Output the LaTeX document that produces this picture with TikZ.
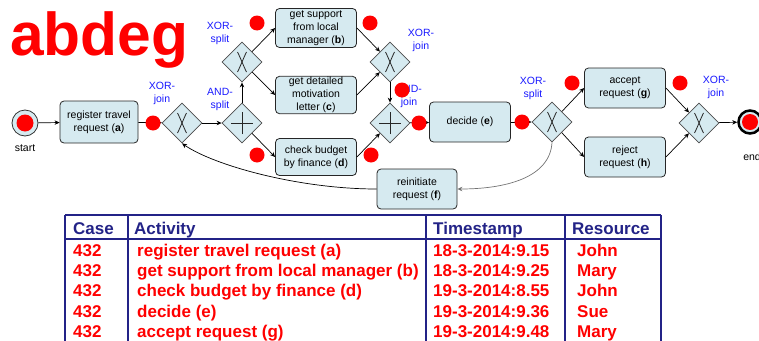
\documentclass[tikz,border=0pt]{standalone}
\usepackage{fontspec}
\setmainfont{Liberation Sans}
\usetikzlibrary{shapes.geometric,arrows.meta}
\definecolor{boxblue}{RGB}{214,234,240}
\definecolor{navy}{RGB}{35,35,135}
\definecolor{lblue}{RGB}{25,25,255}
\begin{document}
\begin{tikzpicture}[x=1pt,y=-1pt,
  act/.style={draw=black!85, line width=0.8pt, rounded corners=4pt, fill=boxblue, align=center,
    minimum width=81pt, minimum height=40pt, inner sep=1pt, font=\fontsize{10.5}{12.8}\selectfont},
  gw/.style={diamond, aspect=1, draw=black!70, line width=0.8pt, fill=boxblue,
    minimum width=40pt, minimum height=40pt, inner sep=0pt},
  tok/.style={circle, fill=red, minimum size=15pt, inner sep=0pt},
  gl/.style={text=lblue, align=center, inner sep=0pt, font=\fontsize{10.5}{13}\selectfont},
  flow/.style={-{Stealth[length=5pt,width=4.5pt]}, line width=0.7pt, black},
  evlbl/.style={inner sep=0pt, font=\fontsize{10.5}{12}\selectfont},
  th/.style={anchor=base west, inner sep=0pt, text=navy, font=\fontsize{17}{20}\bfseries},
  td/.style={anchor=base west, inner sep=0pt, text=red, font=\fontsize{17}{20}\bfseries},
  tline/.style={draw=navy, line width=1.6pt}
]
\useasboundingbox (0,0) rectangle (759,340);
\clip (0,0) rectangle (759,340);

% title
\node[anchor=base west, inner sep=0pt, text=red, font=\fontsize{60.5}{62}\bfseries] (title) at (10,55) {abdeg};

% events
\node[circle, draw=black!80, line width=0.8pt, fill=boxblue, minimum size=26pt, inner sep=0pt] (start) at (25,123) {};
\fill[red] (start.center) circle (8.5);
\node[evlbl] (startl) at (25,148) {start};
\node[circle, draw=black, line width=2.5pt, fill=boxblue, minimum size=23pt, inner sep=0pt] (end) at (750,122) {};
\fill[red] (end.center) circle (8);
\node[evlbl] (endl) at (752,157) {end};

% activities
\node[act, minimum width=78pt, minimum height=42pt] (a) at (99,122) {register travel\\request (\textbf{a})};
\node[act, minimum height=39pt] (b) at (316,28) {get support\\from local\\manager (\textbf{b})};
\node[act, minimum height=37pt] (c) at (316,95) {get detailed\\motivation\\letter (\textbf{c})};
\node[act, minimum height=37pt] (d) at (316,157) {check budget\\by finance (\textbf{d})};
\node[act] (e) at (470,122) {decide (\textbf{e})};
\node[act] (g) at (625,88) {accept\\request (\textbf{g})};
\node[act] (h) at (625,157) {reject\\request (\textbf{h})};
\node[act, minimum width=80pt] (f) at (417,189) {reinitiate\\request (\textbf{f})};

% gateways
\node[gw] (xj1) at (182,123) {};
\node[gw] (as1) at (242,123) {};
\node[gw] (xs1) at (242,62) {};
\node[gw] (xj2) at (390,62) {};
\node[gw] (aj) at (390,123) {};
\node[gw] (xs2) at (552,122) {};
\node[gw] (xj3) at (699,123) {};
\foreach \g in {xj1,xs1,xj2,xs2,xj3}
  \draw[line width=0.8pt, black!85] ([shift={(-4.5,-10)}]\g.center) .. controls ([shift={(-1,-3)}]\g.center) and ([shift={(1,3)}]\g.center) .. ([shift={(4.5,10)}]\g.center)
    ([shift={(4.5,-10)}]\g.center) .. controls ([shift={(1,-3)}]\g.center) and ([shift={(-1,3)}]\g.center) .. ([shift={(-4.5,10)}]\g.center);
\foreach \g in {as1,aj}
  \draw[line width=0.9pt, black!85] ([xshift=-11pt]\g.center) -- ([xshift=11pt]\g.center)
    ([yshift=-11pt]\g.center) -- ([yshift=11pt]\g.center);

% gateway labels
\node[gl] (l1) at (162,93) {XOR-\\join};
\node[gl] (l2) at (220,99) {AND-\\split};
\node[gl] (l3) at (220,33) {XOR-\\split};
\node[gl] (l4) at (421,40) {XOR-\\join};
\node[gl] (l5) at (409,96) {AND-\\join};
\node[gl] (l6) at (533,88) {XOR-\\split};
\node[gl] (l7) at (716,87) {XOR-\\join};

% flows
\draw[flow] (start) -- (a);
\draw[flow] (a) -- (xj1);
\draw[flow] (xj1) -- (as1);
\draw[flow] (as1) -- (xs1);
\draw[flow] (xs1) -- (b.west);
\draw[flow] (xs1) -- (c.west);
\draw[flow] (as1) -- (d.west);
\draw[flow] (b.east) -- (xj2);
\draw[flow] (c.east) -- (xj2);
\draw[flow] (d.east) -- (aj);
\draw[flow] (xj2) -- (aj);
\draw[flow] (aj) -- (e);
\draw[flow] (e) -- (xs2);
\draw[flow] (xs2) -- (g.west);
\draw[flow] (xs2) -- (h.west);
\draw[flow] (g.east) -- (xj3);
\draw[flow] (h.east) -- (xj3);
\draw[flow] (xj3) -- (end);
\draw[flow, draw=black!55] (xs2.south) .. controls (550,178) and (505,189) .. (f.east);
\draw[flow] (f.west) .. controls (300,189) and (215,166) .. (xj1.south);

% tokens
\foreach \tx/\ty/\n in {153/123/t1,257/23/t2,370/23/t3,257/155/t4,371/155/t5,402/90/t6,419/123/t7,522/122/t8,572/83/t9,680/83/t10}
  \node[tok] (\n) at (\tx,\ty) {};

% table
\draw[tline] (65,215) -- (661,215);
\draw[tline] (65,239) -- (661,239);
\foreach \x in {65,128,426,565,661}
  \draw[tline] (\x,215) -- (\x,345);
\node[th] (hc) at (73,234) {Case};
\node[th] (ha) at (134,234) {Activity};
\node[th] (ht) at (433,234) {Timestamp};
\node[th] (hr) at (572,234) {Resource};
\foreach \y/\act/\ts/\res [count=\i] in {
  256/register travel request (a)/18-3-2014:9.15/John,
  276/get support from local manager (b)/18-3-2014:9.25/Mary,
  296/check budget by finance (d)/19-3-2014:8.55/John,
  317/decide (e)/19-3-2014:9.36/Sue,
  337/accept request (g)/19-3-2014:9.48/Mary}{
  \node[td] (rc\i) at (73,\y) {432};
  \node[td] (ra\i) at (137,\y) {\act};
  \node[td] (rt\i) at (433,\y) {\ts};
  \node[td] (rr\i) at (577,\y) {\res};
}
\end{tikzpicture}
\end{document}
